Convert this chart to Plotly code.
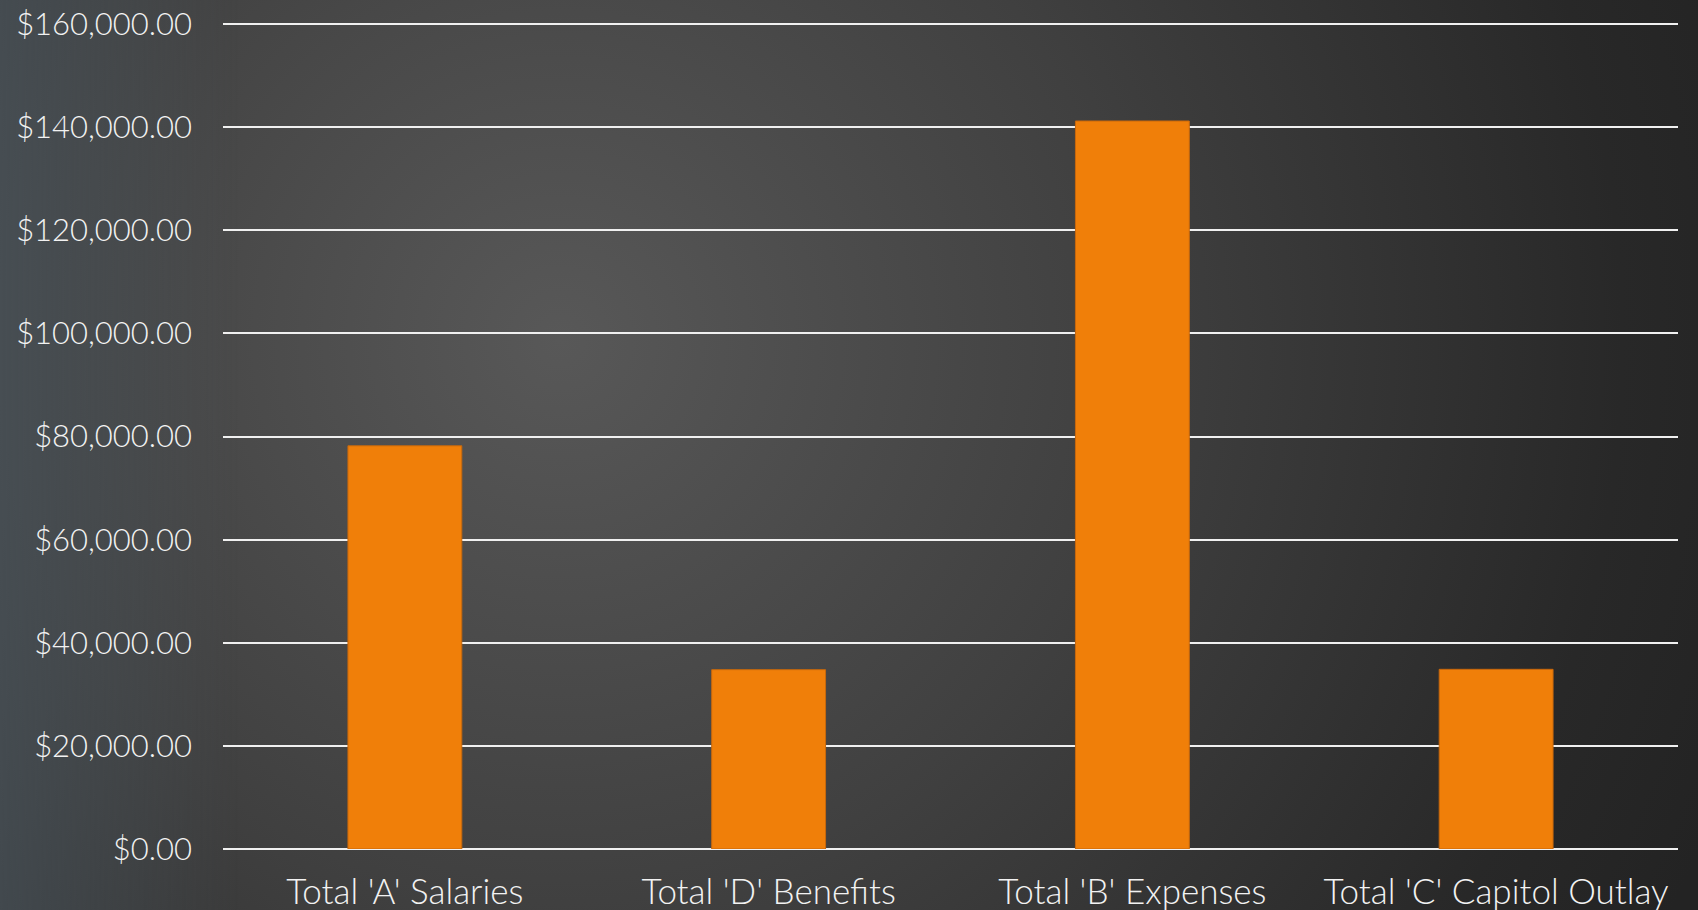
import base64
import plotly.graph_objects as go

categories = ["Total 'A' Salaries", "Total 'D' Benefits", "Total 'B' Expenses", "Total 'C' Capitol Outlay"]
values = [78200, 34780, 141200, 34850]
y_ticks = [0, 20000, 40000, 60000, 80000, 100000, 120000, 140000, 160000]

W, H = 1698, 910
L, R, T, B = 223, 20, 22, 61
pw, ph = W - L - R, H - T - B

svg = f'''<svg xmlns="http://www.w3.org/2000/svg" width="{W}" height="{H}" viewBox="0 0 {W} {H}" preserveAspectRatio="none">
<defs>
<radialGradient id="g" cx="560" cy="340" r="1250" gradientUnits="userSpaceOnUse">
<stop offset="0" stop-color="#585858"/>
<stop offset="0.45" stop-color="#404040"/>
<stop offset="0.85" stop-color="#282828"/>
<stop offset="1" stop-color="#232323"/>
</radialGradient>
<linearGradient id="h" x1="0" y1="0" x2="1" y2="0">
<stop offset="0" stop-color="#ffffff"/>
<stop offset="0.14" stop-color="#000000"/>
</linearGradient>
<mask id="m"><rect width="{W}" height="{H}" fill="url(#h)"/></mask>
</defs>
<rect width="{W}" height="{H}" fill="url(#g)"/>
<rect width="{W}" height="{H}" fill="#4d5a63" fill-opacity="0.55" mask="url(#m)"/>
</svg>'''
src = "data:image/svg+xml;base64," + base64.b64encode(svg.encode()).decode()

font_family = "Lato, 'Open Sans', sans-serif"

fig = go.Figure(go.Bar(
    x=categories,
    y=values,
    marker=dict(color="#F07F09", line=dict(color="#C8680C", width=1)),
    hoverinfo="skip",
))

fig.update_layout(
    width=W, height=H,
    margin=dict(l=L, r=R, t=T, b=B, pad=0, autoexpand=False),
    paper_bgcolor="#3a3a3a",
    plot_bgcolor="rgba(0,0,0,0)",
    bargap=0.687,
    showlegend=False,
    font=dict(family=font_family, color="#f2f2f2", size=31, weight=300),
    images=[dict(
        source=src, xref="paper", yref="paper",
        x=-L / pw, y=1 + T / ph, sizex=W / pw, sizey=H / ph,
        xanchor="left", yanchor="top", sizing="stretch", layer="below",
    )],
    xaxis=dict(
        showgrid=False, showline=False, zeroline=False, ticks="",
        automargin=False,
        ticklabelstandoff=19,
        tickfont=dict(family=font_family, size=35, color="#f2f2f2", weight=300),
    ),
    yaxis=dict(
        range=[0, 160400], tickvals=y_ticks, tickformat="$,.2f",
        showgrid=True, gridcolor="#f0f0f0", gridwidth=2,
        zeroline=True, zerolinecolor="#f0f0f0", zerolinewidth=2,
        showline=False, ticks="",
        automargin=False,
        ticklabelstandoff=30,
        tickfont=dict(family=font_family, size=31, color="#f2f2f2", weight=300),
    ),
)

fig.write_html(
    "out.html",
    config={"displayModeBar": False},
    post_script="document.body.style.margin='0';document.body.style.padding='0';document.body.style.background='#3a3a3a';",
)
